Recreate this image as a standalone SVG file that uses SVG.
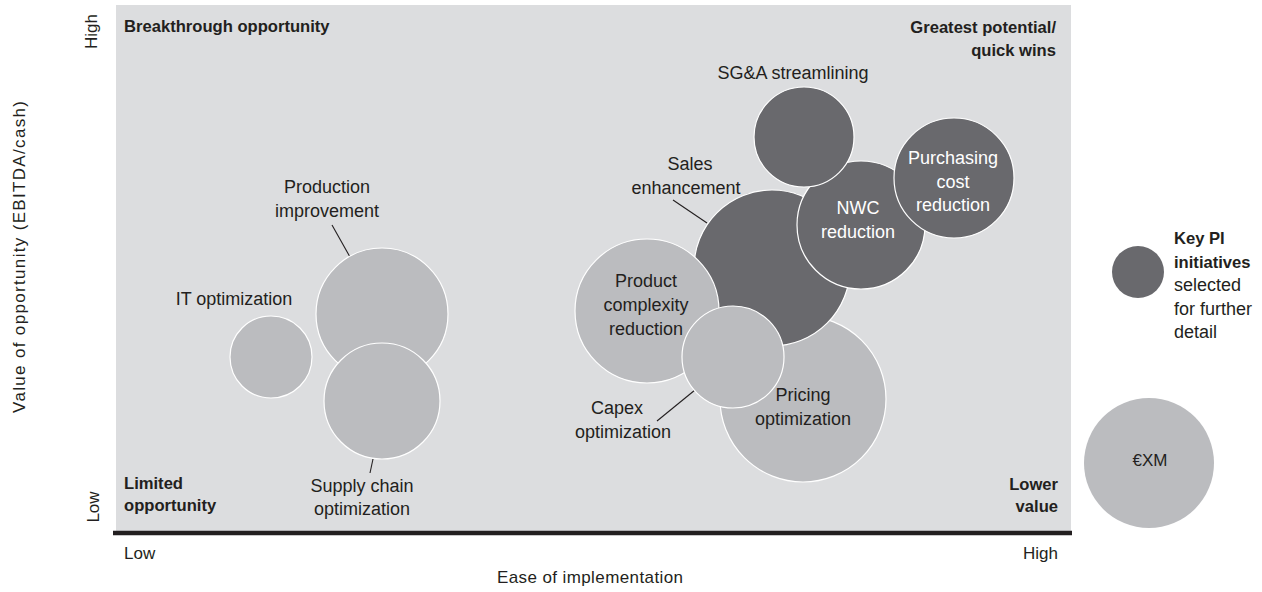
<svg xmlns="http://www.w3.org/2000/svg" width="1262" height="592" viewBox="0 0 1262 592">
<style>
.t{font-family:"Liberation Sans",Arial,sans-serif;font-size:18px;fill:#231f20}
.tw{font-family:"Liberation Sans",Arial,sans-serif;font-size:18px;fill:#ffffff}
.b{font-family:"Liberation Sans",Arial,sans-serif;font-size:16.6px;font-weight:bold;fill:#231f20}
.ax{font-family:"Liberation Sans",Arial,sans-serif;font-size:17px;fill:#231f20}
.m{text-anchor:middle}
.e{text-anchor:end}
.lt{fill:#bbbcbf;stroke:#ffffff;stroke-width:1.2}
.dk{fill:#69696d;stroke:#ffffff;stroke-width:1.2}
.ld{stroke:#231f20;stroke-width:1.1;fill:none}
</style>
<rect x="0" y="0" width="1262" height="592" fill="#ffffff"/>
<g id="plot">
<rect x="116" y="5" width="955" height="527" fill="#dcdddf"/>
<line x1="113" y1="533" x2="1072" y2="533" stroke="#231f20" stroke-width="4.5"/>
</g>
<g id="axes">
<text class="ax m" transform="translate(97,31.5) rotate(-90)">High</text>
<text class="ax m" transform="translate(99,507) rotate(-90)">Low</text>
<text class="ax m" transform="translate(25,257) rotate(-90)" textLength="312" lengthAdjust="spacing">Value of opportunity (EBITDA/cash)</text>
<text class="ax" x="124" y="559">Low</text>
<text class="ax e" x="1058" y="559">High</text>
<text class="ax m" x="590" y="583" textLength="186" lengthAdjust="spacing">Ease of implementation</text>
</g>
<g id="quadrants">
<text class="b" x="124" y="32">Breakthrough opportunity</text>
<text class="b e" x="1056" y="33">Greatest potential/</text>
<text class="b e" x="1056" y="56">quick wins</text>
<text class="b" x="124" y="489">Limited</text>
<text class="b" x="124" y="511">opportunity</text>
<text class="b e" x="1058" y="490">Lower</text>
<text class="b e" x="1058" y="512">value</text>
</g>
<g id="connectors">
<line class="ld" x1="332" y1="225" x2="350" y2="257"/>
<line class="ld" x1="373" y1="459" x2="370" y2="473"/>
<line class="ld" x1="673" y1="200" x2="707" y2="223"/>
<line class="ld" x1="695" y1="390" x2="657" y2="421"/>
</g>
<g id="it-optimization">
<circle class="lt" cx="271" cy="357" r="41"/>
<text class="t m" x="234" y="305">IT optimization</text>
</g>
<g id="production-improvement">
<circle class="lt" cx="382" cy="314" r="66"/>
<text class="t m" x="327" y="193">Production</text>
<text class="t m" x="327" y="217">improvement</text>
</g>
<g id="supply-chain-optimization">
<circle class="lt" cx="382" cy="401" r="58"/>
<text class="t m" x="362" y="492">Supply chain</text>
<text class="t m" x="362" y="515">optimization</text>
</g>
<g id="pricing-optimization">
<circle class="lt" cx="803" cy="399" r="83"/>
<text class="t m" x="803" y="401">Pricing</text>
<text class="t m" x="803" y="425">optimization</text>
</g>
<g id="sales-enhancement">
<circle class="dk" cx="772" cy="268" r="78"/>
<text class="t m" x="690" y="170">Sales</text>
<text class="t m" x="686" y="194">enhancement</text>
</g>
<g id="nwc-reduction">
<circle class="dk" cx="861" cy="225" r="64"/>
<text class="tw m" x="858" y="214">NWC</text>
<text class="tw m" x="858" y="238">reduction</text>
</g>
<g id="sga-streamlining">
<circle class="dk" cx="804" cy="137" r="50"/>
<text class="t m" x="793" y="79">SG&amp;A streamlining</text>
</g>
<g id="purchasing-cost-reduction">
<circle class="dk" cx="954" cy="178" r="60"/>
<text class="tw m" x="953" y="164">Purchasing</text>
<text class="tw m" x="953" y="188">cost</text>
<text class="tw m" x="953" y="211">reduction</text>
</g>
<g id="product-complexity-reduction">
<circle class="lt" cx="647" cy="311" r="72"/>
<text class="t m" x="646" y="287">Product</text>
<text class="t m" x="646" y="311">complexity</text>
<text class="t m" x="646" y="335">reduction</text>
</g>
<g id="capex-optimization">
<circle class="lt" cx="733" cy="357" r="51"/>
<text class="t m" x="617" y="414">Capex</text>
<text class="t m" x="623" y="438">optimization</text>
</g>
<g id="legend-key">
<circle fill="#69696d" cx="1138" cy="272" r="26"/>
<text class="b" x="1174" y="244">Key PI</text>
<text class="b" x="1174" y="268">initiatives</text>
<text class="t" x="1174" y="291">selected</text>
<text class="t" x="1174" y="315">for further</text>
<text class="t" x="1174" y="338">detail</text>
</g>
<g id="legend-size">
<circle fill="#bbbcbf" cx="1149" cy="463" r="65"/>
<text class="t m" x="1150" y="466" style="font-size:17px">€XM</text>
</g>
</svg>
